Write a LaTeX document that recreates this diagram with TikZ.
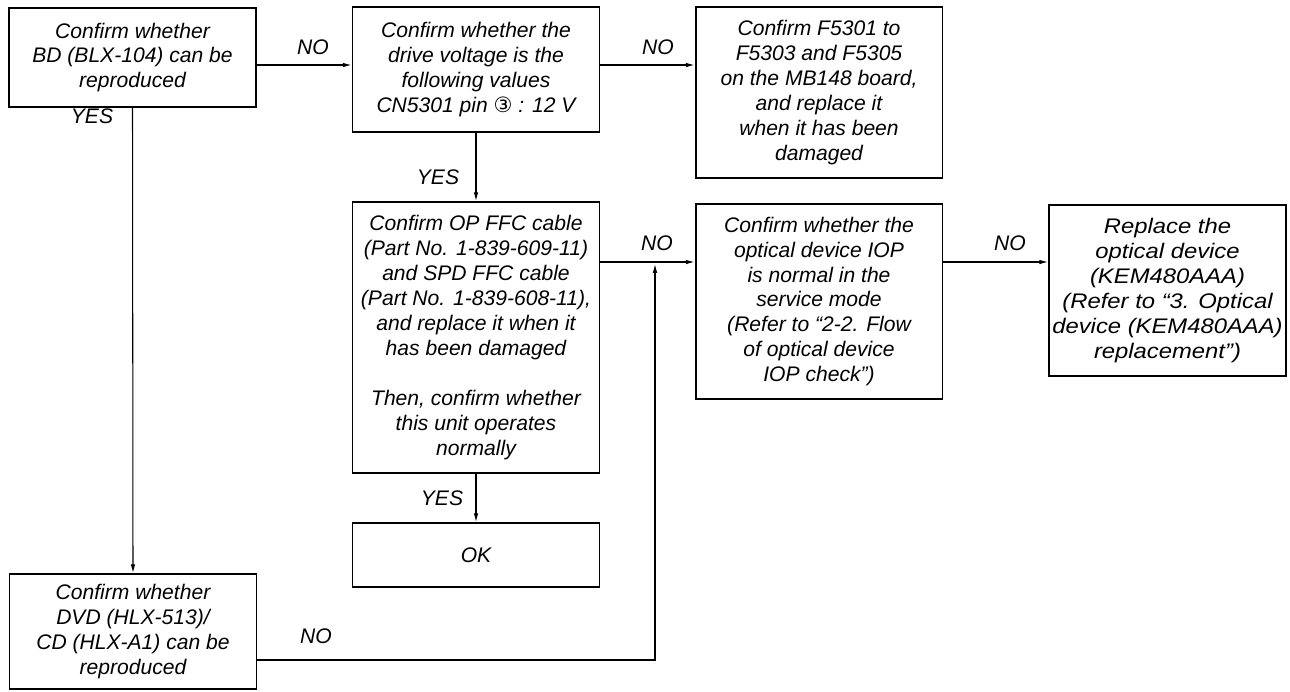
\documentclass[tikz,border=0pt]{standalone}
\usepackage{fontspec}
\setmainfont{Liberation Sans}
\newfontfamily\circfont{DejaVu Sans}
\newfontfamily\widefont[FakeStretch=1.13]{Liberation Sans}
\usetikzlibrary{arrows.meta}

\begin{document}
\begin{tikzpicture}[
  x=0.02cm, y=-0.02cm,
  my box/.style={
    draw, line width=1.1pt,
    align=center, inner sep=0pt,
    minimum width=4.94cm,
    font=\fontsize{12}{14.2}\selectfont\itshape,
  },
  my arrow/.style={-{Latex[length=5pt,width=2.6pt]}, line width=0.6pt},
  my label/.style={font=\fontsize{12}{14.2}\selectfont\itshape},
  ]
  \useasboundingbox (0,0) rectangle (1290,691);

  % boxes
  \node [my box, minimum height=1.98cm] (A) at (132.5,57.5)
    {Confirm whether\\BD (BLX-104) can be\\reproduced};
  \node [my box, minimum height=2.5cm] (B) at (476,69.5)
    {Confirm whether the\\drive voltage is the\\following values\\CN5301 pin {\circfont\upshape ③} : 12 V};
  \node [my box, minimum height=3.42cm] (C) at (819,92.5)
    {Confirm F5301 to\\F5303 and F5305\\on the MB148 board,\\and replace it\\when it has been\\damaged};
  \node [my box, minimum height=5.42cm] (D) at (476,337.5)
    {Confirm OP FFC cable\\(Part No. 1-839-609-11)\\and SPD FFC cable\\(Part No. 1-839-608-11),\\and replace it when it\\has been damaged\\[14.2pt]Then, confirm whether\\this unit operates\\normally};
  \node [my box, minimum height=1.28cm] (E) at (476,555) {OK};
  \node [my box, minimum height=3.9cm] (F) at (819,301.5)
    {Confirm whether the\\optical device IOP\\is normal in the\\service mode\\(Refer to “2-2. Flow\\of optical device\\IOP check”)};
  \node [my box, minimum width=4.74cm, minimum height=3.42cm,
    font=\fontsize{12}{14.2}\widefont\itshape] (G) at (1167.5,290.5)
    {Replace the\\optical device\\(KEM480AAA)\\(Refer to “3. Optical\\device (KEM480AAA)\\replacement”)};
  \node [my box, minimum height=2.3cm] (H) at (133,631.5)
    {Confirm whether\\DVD (HLX-513)/\\CD (HLX-A1) can be\\reproduced};

  % rows the arrows run along
  \coordinate (row1) at (0,65);
  \coordinate (row2) at (0,262);
  \coordinate (rowH) at (0,660);
  \coordinate (join) at (655,264);

  \draw [my arrow] (A.east |- row1) -- (B.west |- row1);
  \draw [my arrow] (B.east |- row1) -- (C.west |- row1);
  \draw [my arrow] (A.south) -- (H.north);
  \draw [my arrow] (B.south) -- (D.north);
  \draw [my arrow] (D.south) -- (E.north);
  \draw [my arrow] (D.east |- row2) -- (F.west |- row2);
  \draw [my arrow] (F.east |- row2) -- (G.west |- row2);
  \draw [my arrow] (H.east |- rowH) -| (join);

  % answers
  \node [my label] (noAB) at (313,47) {NO};
  \node [my label] (noBC) at (658,47) {NO};
  \node [my label] (yesA) at (92,116) {YES};
  \node [my label] (yesB) at (438,177) {YES};
  \node [my label] (yesD) at (442,498) {YES};
  \node [my label] (noDF) at (657,243) {NO};
  \node [my label] (noFG) at (1010,243) {NO};
  \node [my label] (noH) at (316,636) {NO};
\end{tikzpicture}
\end{document}
